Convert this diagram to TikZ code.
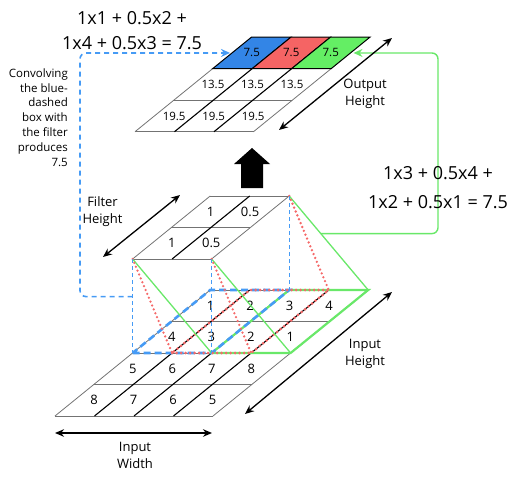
\documentclass[tikz,border=0pt]{standalone}
\usepackage{fontspec}
\setmainfont{Open Sans}
\usetikzlibrary{positioning,calc,arrows.meta}

\definecolor{cellblue}{RGB}{51,133,230}
\definecolor{cellred}{RGB}{245,100,100}
\definecolor{cellgreen}{RGB}{100,238,100}
\definecolor{lineblue}{RGB}{70,155,245}
\definecolor{linered}{RGB}{245,105,105}
\definecolor{linegreen}{RGB}{105,232,105}

\begin{document}
\begin{tikzpicture}[x=1pt, y=-1pt,
    hline/.style={draw=black!55, line width=0.8pt},
    sline/.style={draw=black, line width=1.1pt},
    edge/.style={draw=black!55, line width=0.8pt},
    cell/.style={font=\fontsize{13}{15}\selectfont, inner sep=0pt},
    ocell/.style={font=\fontsize{11.5}{14}\selectfont, inner sep=0pt},
    dimlabel/.style={font=\fontsize{13}{17}\selectfont, align=center, inner sep=0pt},
    eqtext/.style={font=\fontsize{18}{25}\selectfont, align=center, inner sep=0pt},
    notetext/.style={font=\fontsize{11.5}{14.8}\selectfont, align=right, inner sep=0pt},
    dimarrow/.style={{Stealth[length=9pt,width=7.5pt]}-{Stealth[length=9pt,width=7.5pt]}, line width=1.3pt},
    bluebox/.style={draw=lineblue, line width=2.6pt, dash pattern=on 7pt off 4pt},
    redbox/.style={draw=linered, line width=3pt, line cap=round, dash pattern=on 0pt off 4.5pt},
    greenbox/.style={draw=linegreen, line width=2.2pt},
    bluedrop/.style={draw=lineblue, line width=1.4pt, dash pattern=on 4pt off 3pt},
    reddrop/.style={draw=linered, line width=2.6pt, line cap=round, dash pattern=on 0pt off 4.2pt},
    greendrop/.style={draw=linegreen, line width=1.3pt},
    bluelink/.style={draw=lineblue, line width=1.6pt, dash pattern=on 5pt off 4pt, rounded corners=6pt, -{Stealth[length=9pt,width=8pt]}},
    greenlink/.style={draw=linegreen, line width=1.4pt, rounded corners=6pt, -{Stealth[length=9pt,width=8pt]}}
]
\useasboundingbox (0,0) rectangle (513,481);

% Input
\begin{scope}[shift={(55,416)}, x={(39.5pt,0pt)}, y={(38.8pt,31.5pt)}]
    \foreach \j in {0,...,4} \draw[hline] (0,\j) -- (4,\j);
    \foreach \i in {1,2,3} \draw[sline] (\i,0) -- (\i,4);
    \draw[edge] (0,0) -- (0,4) (4,0) -- (4,4);
    \foreach \row [count=\j from 0] in {{8,7,6,5},{5,6,7,8},{4,3,2,1},{1,2,3,4}}
        \foreach \v [count=\i from 0] in \row
            \node[cell] (inc-\i-\j) at (\i+.5,\j+.5) {\v};
    \foreach \i in {0,...,4} {
        \coordinate (in-\i-2) at (\i,2);
        \coordinate (in-\i-4) at (\i,4);
    }
    % windows
    \draw[greenbox] (2,2) -- (4,2) -- (4,4) -- (2,4) -- cycle;
    \draw[bluebox] (0,2) -- (2,2) -- (2,4) -- (0,4) -- cycle;
    \draw[redbox] (1,2) -- (3,2) -- (3,4) -- (1,4) -- cycle;
\end{scope}

% Filter
\begin{scope}[shift={(132.6,259)}, x={(39.5pt,0pt)}, y={(38.8pt,31.5pt)}]
    \foreach \j in {0,1,2} \draw[hline] (0,\j) -- (2,\j);
    \draw[sline] (1,0) -- (1,2);
    \draw[edge] (0,0) -- (0,2) (2,0) -- (2,2);
    \foreach \row [count=\j from 0] in {{1,0.5},{1,0.5}}
        \foreach \v [count=\i from 0] in \row
            \node[cell] (fc-\i-\j) at (\i+.5,\j+.5) {\v};
    \coordinate (f-0-0) at (0,0);
    \coordinate (f-2-0) at (2,0);
    \coordinate (f-2-2) at (2,2);
\end{scope}

% Filter corners down to the three windows
\draw[greendrop] (f-0-0) -- (in-2-2) (f-2-0) -- (in-4-2) (f-2-2) -- (in-4-4);
\draw[reddrop] (f-0-0) -- (in-1-2) (f-2-0) -- (in-3-2) (f-2-2) -- (in-3-4);
\draw[bluedrop] (f-0-0) -- (in-0-2) (f-2-0) -- (in-2-2) (f-2-2) -- (in-2-4);

% Output
\begin{scope}[shift={(135,131.7)}, x={(39.5pt,0pt)}, y={(38.8pt,31.5pt)}]
    \foreach \j in {0,1} \draw[hline] (0,\j) -- (3,\j);
    \foreach \i in {1,2} \draw[sline] (\i,0) -- (\i,2);
    \draw[edge] (0,0) -- (0,2) (3,0) -- (3,2);
    \foreach \c [count=\i from 0] in {cellblue,cellred,cellgreen}
        \filldraw[fill=\c, draw=black, line width=1pt] (\i,2) -- (\i+1,2) -- (\i+1,3) -- (\i,3) -- cycle;
    \foreach \v [count=\j from 0] in {19.5,13.5,7.5}
        \foreach \i in {0,1,2}
            \node[ocell] (oc-\i-\j) at (\i+.5,\j+.5) {\v};
    \coordinate (out-l) at (0,2.5);
    \coordinate (out-r) at (3,2.5);
\end{scope}

% Connectors to the output row
\draw[bluelink] ($(f-0-0)!0.4!(in-0-2)$) -| (80,53) -- ([xshift=-2pt]out-l);
\draw[greenlink] ($(f-2-2)!0.4!(in-4-4)$) -| (438,53) -- ([xshift=3pt]out-r);

% Block arrow
\fill (241,188) -- (241,164) -- (234,164) -- (252,148) -- (270,164) -- (263,164) -- (263,188) -- cycle;

% Dimension arrows
\coordinate (oh-a) at (279,130);
\coordinate (oh-b) at (392,38);
\coordinate (fh-a) at (103,257);
\coordinate (fh-b) at (180,195);
\coordinate (ih-a) at (245,414);
\coordinate (ih-b) at (392,292);
\coordinate (iw-a) at (55,433);
\coordinate (iw-b) at (212,433);
\draw[dimarrow] (oh-a) -- (oh-b);
\draw[dimarrow] (fh-a) -- (fh-b);
\draw[dimarrow] (ih-a) -- (ih-b);
\draw[dimarrow] (iw-a) -- (iw-b);

\node[dimlabel] (outh) at (365,93.5) {Output\\Height};
\node[dimlabel] (filth) at (102.5,211.5) {Filter\\Height};
\node[dimlabel] (inh) at (365,353.5) {Input\\Height};
\node[dimlabel] (inw) at (135,455.5) {Input\\Width};

% Equations
\node[eqtext] (eq-left) at (132,30.5) {1x1 + 0.5x2 +\\1x4 + 0.5x3 = 7.5};
\node[eqtext, font=\fontsize{18}{28.5}\selectfont] (eq-right) at (438,187.5) {1x3 + 0.5x4 +\\1x2 + 0.5x1 = 7.5};
\node[notetext, anchor=east] (note) at (68,117.5) {Convolving\\the blue-\\dashed\\box with\\the filter\\produces\\7.5};

\end{tikzpicture}
\end{document}
